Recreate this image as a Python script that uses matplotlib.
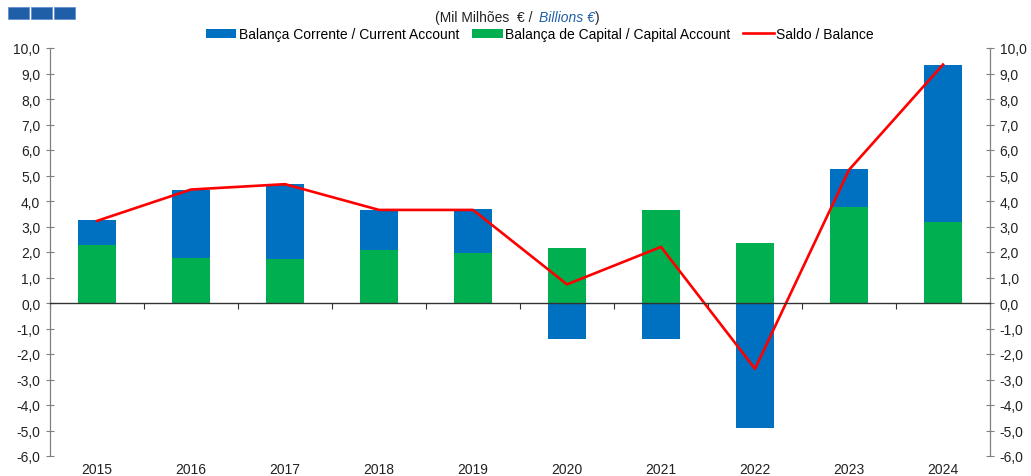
import matplotlib
matplotlib.use("Agg")
import matplotlib.pyplot as plt
from matplotlib.patches import Rectangle
import numpy as np

years = ["2015", "2016", "2017", "2018", "2019", "2020", "2021", "2022", "2023", "2024"]
current_account = [0.97, 2.67, 2.94, 1.57, 1.72, -1.40, -1.41, -4.91, 1.52, 6.16]
capital_account = [2.27, 1.78, 1.72, 2.08, 1.95, 2.15, 3.65, 2.36, 3.75, 3.18]
balance = [3.22, 4.45, 4.66, 3.65, 3.65, 0.73, 2.20, -2.58, 5.22, 9.35]
yticks = [-6, -5, -4, -3, -2, -1, 0, 1, 2, 3, 4, 5, 6, 7, 8, 9, 10]
ytick_labels = [f"{v:.1f}".replace(".", ",") for v in yticks]

plt.rcParams['font.family'] = ['Liberation Sans', 'DejaVu Sans']
plt.rcParams['font.size'] = 10

BLUE = "#0070C0"
GREEN = "#00B050"
RED = "#FF0000"
GRAY = "#808080"

fig = plt.figure(figsize=(10.31, 4.77), dpi=100)
ax = fig.add_axes([50/1031, 20/477, 940/1031, 408/477])

x = np.arange(len(years))
ca = np.array(current_account)
cap = np.array(capital_account)
w = 0.41
ax.bar(x, cap, width=w, color=GREEN, label="Balança de Capital / Capital Account", zorder=2)
ca_bottom = np.where(ca >= 0, cap, 0)
ax.bar(x, ca, width=w, bottom=ca_bottom, color=BLUE, label="Balança Corrente / Current Account", zorder=2)
ax.plot(x, balance, color=RED, lw=1.9, label="Saldo / Balance", zorder=3)

ax.set_xlim(-0.5, len(years) - 0.5)
ax.set_ylim(-6, 10)
ax.set_yticks(yticks)
ax.set_yticklabels(ytick_labels)
ax.tick_params(axis='y', which='both', direction='inout', length=6, width=0.8,
               color=GRAY, left=True, right=True, labelleft=True, labelright=True,
               pad=4, labelsize=10, labelcolor="#222222")

for s in ["top"]:
    ax.spines[s].set_visible(False)
for s in ["left", "right"]:
    ax.spines[s].set_color(GRAY)
    ax.spines[s].set_linewidth(0.9)
ax.spines["bottom"].set_position(("data", 0))
ax.spines["bottom"].set_color("#333333")
ax.spines["bottom"].set_linewidth(1.0)
ax.spines["bottom"].set_zorder(4)

ax.set_xticks(np.arange(len(years) + 1) - 0.5)
ax.set_xticklabels([])
ax.tick_params(axis='x', direction='out', length=4, width=0.8, color="#333333")

sec = ax.secondary_xaxis('bottom')
sec.set_xticks(x)
sec.set_xticklabels(years)
sec.tick_params(length=0, pad=4, labelsize=10, labelcolor="#222222")
sec.spines['bottom'].set_visible(False)

# legend
handles, labels = ax.get_legend_handles_labels()
order = [labels.index("Balança Corrente / Current Account"),
         labels.index("Balança de Capital / Capital Account"),
         labels.index("Saldo / Balance")]
fig.legend([handles[i] for i in order], [labels[i] for i in order],
           loc="center", bbox_to_anchor=(540/1031, 1 - 35/477), ncol=3, frameon=False,
           handlelength=2.2, handleheight=0.6, handletextpad=0.2, columnspacing=0.9,
           fontsize=10)

# subtitle
t1 = fig.text(536/1031, 1 - 18/477, "(Mil Milhões  € / ", ha="right", va="center",
              fontsize=10, color="#222222")
t2 = ax.annotate("Billions €", xy=(1, 0), xycoords=t1, xytext=(2, 0), textcoords="offset points",
                 ha="left", va="bottom", fontsize=10, color="#1F5FA8", style="italic",
                 annotation_clip=False)
t3 = ax.annotate(")", xy=(1, 0), xycoords=t2, xytext=(0, 0), textcoords="offset points",
                 ha="left", va="bottom", fontsize=10, color="#222222", annotation_clip=False)

# top-left decorative squares
for x0 in [8, 31, 54]:
    fig.patches.append(Rectangle((x0/1031, 1 - 20/477), 21/1031, 12/477,
                                 transform=fig.transFigure, facecolor="#1F5FA8",
                                 edgecolor="#5A8ACB", lw=0.5))

fig.savefig("out.png", dpi=100)
